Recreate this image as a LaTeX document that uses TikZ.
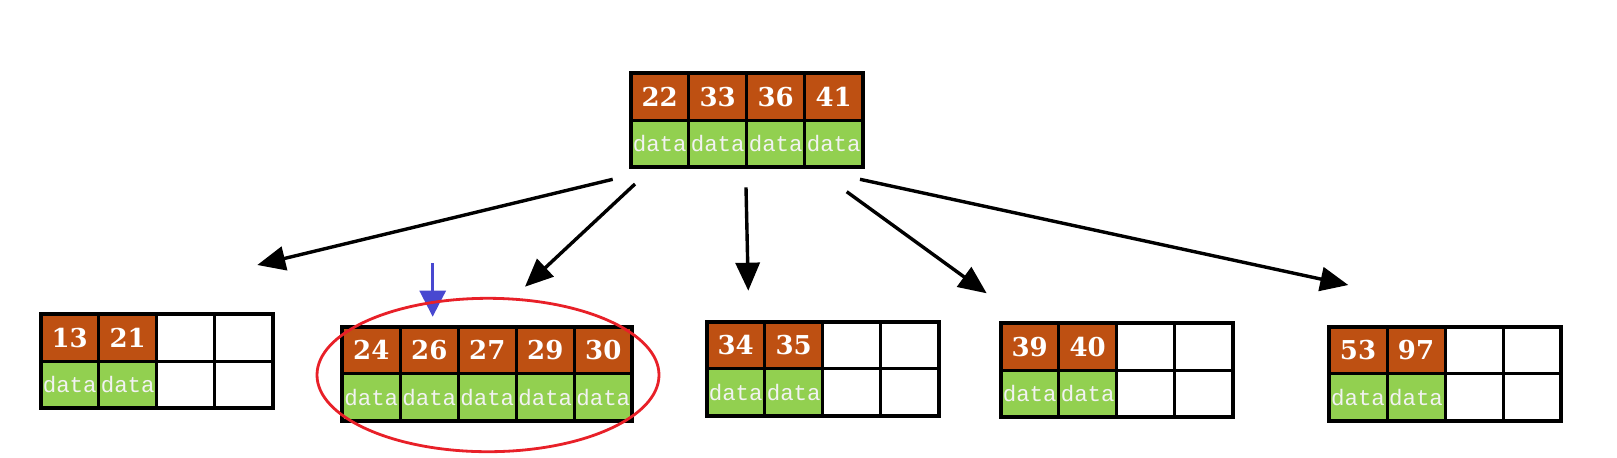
\documentclass[tikz,border=0pt]{standalone}
\usepackage{fontspec}
\usetikzlibrary{arrows.meta,shapes.geometric,fit}
\newfontfamily\keyfont{DejaVu Serif}
\newfontfamily\datafont{Liberation Mono}
\definecolor{keybrown}{RGB}{190,80,18}
\definecolor{datagreen}{RGB}{146,208,80}
\definecolor{ringred}{RGB}{232,32,40}
\definecolor{ptrblue}{RGB}{72,72,208}
\newcommand\bpage[4]{% name, x, y, keys
  \foreach \k [count=\i] in {#4} {
    \node[keycell] (#1-k\i) at ({#2+(\i-0.5)*58},{#3+23.5}) {\k};
    \node[datacell] (#1-d\i) at ({#2+(\i-0.5)*58},{#3+70.5}) {data};
  }}
\newcommand\bempty[4]{% name, x, y, indices
  \foreach \i in {#4} {
    \node[emptycell] (#1-k\i) at ({#2+(\i-0.5)*58},{#3+23.5}) {};
    \node[emptycell] (#1-d\i) at ({#2+(\i-0.5)*58},{#3+70.5}) {};
  }}
\newcommand\bframe[2]{% name, last index
  \node[pageframe, fit=(#1-k1)(#1-d#2)] (#1) {};}
\begin{document}
\begin{tikzpicture}[x=0.5pt,y=-0.5pt,
  cellbase/.style={draw=black, line width=1.5pt, minimum width=29pt, minimum height=23.5pt, inner sep=0pt, outer sep=0pt, anchor=center},
  keycell/.style={cellbase, fill=keybrown, text=white, text depth=-1.2pt, font=\keyfont\bfseries\fontsize{13}{13}\selectfont},
  datacell/.style={cellbase, fill=datagreen, text=white!95!black, font=\datafont\fontsize{11.2}{11.2}\selectfont},
  emptycell/.style={cellbase, fill=white},
  pageframe/.style={draw=black, line width=2pt, inner sep=0pt, outer sep=0pt},
  ptr/.style={line width=1.7pt, -{Triangle[length=14pt,width=12pt]}},
  bluptr/.style={draw=ptrblue, line width=1.4pt, -{Triangle[length=13pt,width=13pt]}},
  ring/.style={ellipse, draw=ringred, line width=1.4pt, minimum width=171pt, minimum height=76.7pt, inner sep=0pt}
]
\fill[white] (0,0) rectangle (1617,457);
\useasboundingbox (0,0) rectangle (1617,457);

\bpage{root}{630.7}{73.3}{22,33,36,41}
\bframe{root}{4}

\bpage{la}{40.7}{314}{13,21}
\bempty{la}{40.7}{314}{3,4}
\bframe{la}{4}

\bpage{lb}{342.3}{326.7}{24,26,27,29,30}
\bframe{lb}{5}

\bpage{lc}{706.7}{321.7}{34,35}
\bempty{lc}{706.7}{321.7}{3,4}
\bframe{lc}{4}

\bpage{ld}{1000.7}{323.3}{39,40}
\bempty{ld}{1000.7}{323.3}{3,4}
\bframe{ld}{4}

\bpage{le}{1329}{326.7}{53,97}
\bempty{le}{1329}{326.7}{3,4}
\bframe{le}{4}

\coordinate (s1) at (612.7,179.3); \coordinate (t1) at (257.3,265);
\coordinate (s2) at (635,184);     \coordinate (t2) at (525,286.7);
\coordinate (s3) at (746,187.3);   \coordinate (t3) at (748.3,290.7);
\coordinate (s4) at (846.7,191.7); \coordinate (t4) at (986.7,293.3);
\coordinate (s5) at (860,179.3);   \coordinate (t5) at (1348.3,285);
\draw[ptr] (s1) -- (t1);
\draw[ptr] (s2) -- (t2);
\draw[ptr] (s3) -- (t3);
\draw[ptr] (s4) -- (t4);
\draw[ptr] (s5) -- (t5);

\coordinate (bs) at (432.7,263); \coordinate (bt) at (432.7,316.7);
\draw[bluptr] (bs) -- (bt);

\node[ring] (hit) at (488,375) {};
\end{tikzpicture}
\end{document}
